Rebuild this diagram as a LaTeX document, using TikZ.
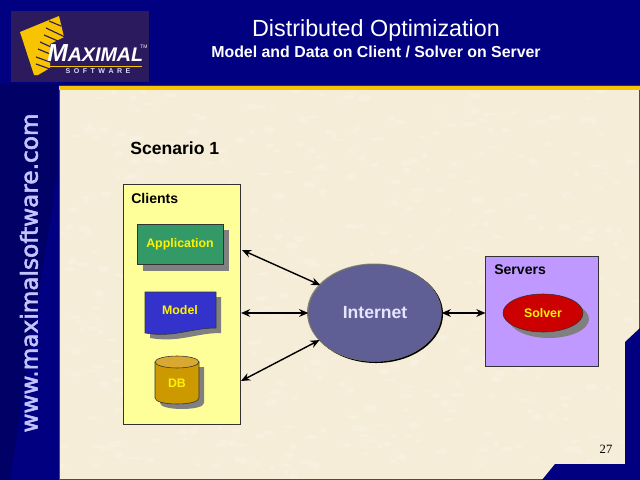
\documentclass[tikz,border=0pt]{standalone}
\usepackage{fontspec}
\setmainfont{Liberation Sans}
\newfontfamily\urlfont[FakeBold=2.5]{DejaVu Sans}
\newfontfamily\pagefont{Liberation Serif}
\usetikzlibrary{arrows.meta}
\usetikzlibrary{shapes.geometric}
\usetikzlibrary{shadows}
\definecolor{navyback}{HTML}{000080}
\definecolor{navydark}{HTML}{000066}
\definecolor{paper}{HTML}{F6EDD8}
\definecolor{paperspot}{HTML}{F8F0DF}
\definecolor{logoback}{HTML}{2B1B5E}
\definecolor{logogold}{HTML}{F8C400}
\definecolor{clientfill}{HTML}{FFFF99}
\definecolor{serverfill}{HTML}{BF99FF}
\definecolor{appfill}{HTML}{339966}
\definecolor{modelfill}{HTML}{3333CC}
\definecolor{dbfill}{HTML}{CC9900}
\definecolor{dbtop}{HTML}{D9A830}
\definecolor{netfill}{HTML}{5F5F96}
\definecolor{solverfill}{HTML}{CC0000}
\definecolor{urlcolor}{HTML}{C4C4FF}
\tikzset{
	boxlabel/.style={font=\fontsize{10}{12}\bfseries\selectfont, anchor=west},
	partlabel/.style={font=\fontsize{8.8}{10}\bfseries\selectfont, text=yellow},
	group/.style={draw=black!80, line width=0.7pt, inner sep=0pt},
	graybelow/.style={drop shadow={shadow xshift=0.15cm, shadow yshift=-0.15cm, fill=gray, opacity=1}},
	link/.style={{Stealth[length=6.5pt,width=5.5pt]}-{Stealth[length=6.5pt,width=5.5pt]}, line width=1pt}
}
\begin{document}
\begin{tikzpicture}[x=0.025cm, y=-0.025cm]
	\useasboundingbox (0, 0) rectangle (640, 480);
	% slide background
	\fill[navyback] (0, 0) rectangle (640, 480);
	\fill[navydark] (0, 84) rectangle (58, 480);
	\fill[navyback] (58, 170) -- (58, 480) -- (10, 480) -- cycle;
	\fill[paper] (59, 90) rectangle (640, 480);
	\pgfmathsetseed{27}
	\begin{scope}
		\clip (60, 90) rectangle (640, 480);
		\foreach \i in {1,...,500}
			\fill[paperspot] (60+580*rnd, 90+390*rnd) ellipse (2+5*rnd and 1+2.5*rnd);
	\end{scope}
	\draw[line width=0.7pt, black!70] (59, 90) -- (59, 479) -- (640, 479);
	\draw[line width=0.7pt, black!70] (639.5, 90) -- (639.5, 479);
	\fill[logogold] (59, 86) rectangle (640, 90);
	\draw[line width=0.7pt, black!80] (59, 85.5) -- (640, 85.5);
	\fill[navyback] (640, 328) -- (625, 342) -- (625, 464) -- (555, 464) -- (542, 480) -- (640, 480) -- cycle;
	% logo
	\fill[logoback] (11, 11) rectangle (149, 82);
	\fill[logogold] (20, 32) -- (59, 16) -- (64, 37) -- (50, 44) -- (50, 68) -- (38, 75) -- (34, 75) -- cycle;
	\foreach \xa/\ya/\xb/\yb in {49/21/61/26, 46/28/65/37, 44/35/58/41, 40/42/51/47, 38/49/50/54, 36/57/50/62, 36/64/50/69}
		\draw[logoback, line width=0.8pt] (\xa, \ya) -- (\xb, \yb);
	\node[font=\fontsize{17.5}{18}\bfseries\itshape\selectfont, text=white, anchor=west, inner sep=0pt] (brand) at (47, 53) {M\fontsize{14}{15}\selectfont AXIMAL};
	\node[font=\fontsize{3.5}{4}\selectfont, text=white, inner sep=0pt] (trademark) at (144, 47) {TM};
	\fill[logogold] (50, 65.5) rectangle (142, 67);
	\node[font=\fontsize{5}{6}\bfseries\selectfont, text=white!85!blue, inner sep=0pt] (brandsub) at (98, 71.5) {S\,\,\,O\,\,\,F\,\,\,T\,\,\,W\,\,\,A\,\,\,R\,\,\,E};
	% titles
	\node[font=\fontsize{16.6}{18}\selectfont, text=white] (title) at (376, 30) {Distributed Optimization};
	\node[font=\fontsize{11.3}{14}\bfseries\selectfont, text=white] (subtitle) at (376, 52) {Model and Data on Client / Solver on Server};
	\node[font=\fontsize{16.5}{20}\selectfont\urlfont, text=urlcolor, rotate=90] (url) at (29, 273) {www.maximalsoftware.com};
	\node[font=\fontsize{12.5}{15}\bfseries\selectfont, anchor=west, inner sep=0pt] (scenario) at (130, 148) {Scenario 1};
	\node[font=\fontsize{9}{10}\selectfont\pagefont, inner sep=0pt] (pagenum) at (606, 449) {27};
	% clients
	\node[group, fill=clientfill, minimum width=2.9cm, minimum height=5.975cm] (clients) at (182, 304.5) {};
	\node[boxlabel, inner sep=0pt] (clientslabel) at (131, 198) {Clients};
	\node[draw=black!80, fill=appfill, graybelow, partlabel, minimum width=2.15cm, minimum height=1cm, inner sep=0pt] (application) at (180, 244.5) {Application};
	\fill[gray] (150, 297) -- (221, 297) -- (221, 333) .. controls (195, 333) and (180, 343) .. (150, 338) -- cycle;
	\draw[black!80, fill=modelfill] (145, 292) -- (216, 292) -- (216, 328) .. controls (190, 328) and (175, 338) .. (145, 333) -- cycle;
	\node[partlabel, inner sep=0pt] (model) at (180, 310) {Model};
	\fill[gray] (160, 367) -- (160, 403) .. controls (160, 411) and (204, 411) .. (204, 403) -- (204, 367) -- cycle;
	\draw[black!80, fill=dbfill] (155, 362) -- (155, 398) .. controls (155, 406) and (199, 406) .. (199, 398) -- (199, 362) -- cycle;
	\draw[black!80, fill=dbtop] (177, 362) ellipse (22 and 6);
	\node[partlabel, inner sep=0pt] (dblabel) at (177, 383) {DB};
	% internet
	\node[ellipse, fill=black, minimum width=3.35cm, minimum height=2.45cm] (internetedge) at (376, 314) {};
	\fill[gray] (374, 312.5) ellipse (67 and 49);
	\node[ellipse, draw=black!60, fill=netfill, minimum width=3.32cm, minimum height=2.42cm, inner sep=0pt, font=\fontsize{12.5}{15}\bfseries\selectfont, text=white!90!blue] (internet) at (375, 313) {Internet};
	% servers
	\node[group, fill=serverfill, minimum width=2.8cm, minimum height=2.725cm] (servers) at (542, 311.5) {};
	\node[boxlabel, inner sep=0pt] (serverslabel) at (494, 270) {Servers};
	\node[ellipse, draw=black!80, fill=solverfill, graybelow, partlabel, minimum width=2cm, minimum height=0.95cm, inner sep=0pt] (solver) at (543, 313) {Solver};
	% links
	\coordinate (append) at (242, 250);
	\coordinate (modelend) at (241, 313);
	\coordinate (dbend) at (241, 381);
	\draw[link] (append) -- (internet.153);
	\draw[link] (modelend) -- (internet.west);
	\draw[link] (dbend) -- (internet.206);
	\draw[link] (internet.east) -- (internet.east -| servers.west);
\end{tikzpicture}
\end{document}
